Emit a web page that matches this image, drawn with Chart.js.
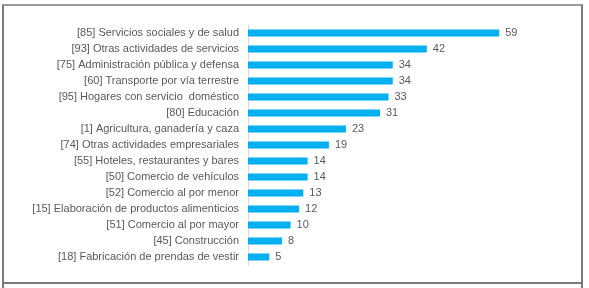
<!DOCTYPE html>
<html>
<head>
<meta charset="utf-8">
<script src="https://cdn.jsdelivr.net/npm/chart.js@4.4.1/dist/chart.umd.min.js"></script>
<style>
  html, body { margin: 0; padding: 0; background: #ffffff; overflow: hidden; }
  #wrap { position: relative; width: 589px; height: 288px; }
  #frame { position: absolute; left: 2px; top: 4px; width: 577px; height: 276px; border: 2px solid #7a7a7a; border-top-color: #9a9a9a; box-sizing: content-box; pointer-events: none; }
  .ext { position: absolute; top: 284px; width: 2px; height: 4px; background: #7a7a7a; }
  canvas { position: absolute; left: 0; top: 0; }
</style>
</head>
<body>
<div id="wrap">
  <canvas id="c" width="589" height="288"></canvas>
  <div id="frame"></div>
  <div class="ext" style="left:2px"></div>
  <div class="ext" style="left:581px"></div>
</div>
<script>
const categories = [
  "[85] Servicios sociales y de salud",
  "[93] Otras actividades de servicios",
  "[75] Administración pública y defensa",
  "[60] Transporte por vía terrestre",
  "[95] Hogares con servicio  doméstico",
  "[80] Educación",
  "[1] Agricultura, ganadería y caza",
  "[74] Otras actividades empresariales",
  "[55] Hoteles, restaurantes y bares",
  "[50] Comercio de vehículos",
  "[52] Comercio al por menor",
  "[15] Elaboración de productos alimenticios",
  "[51] Comercio al por mayor",
  "[45] Construcción",
  "[18] Fabricación de prendas de vestir"
];
const values = [59, 42, 34, 34, 33, 31, 23, 19, 14, 14, 13, 12, 10, 8, 5];

const FONT = "'Liberation Sans', Arial, sans-serif";

const valueLabels = {
  id: 'valueLabels',
  afterDatasetsDraw(chart) {
    const ctx = chart.ctx;
    const meta = chart.getDatasetMeta(0);
    ctx.save();
    ctx.font = "11px " + FONT;
    ctx.fillStyle = "#595959";
    ctx.textAlign = "left";
    ctx.textBaseline = "middle";
    meta.data.forEach((bar, i) => {
      ctx.fillText(String(chart.data.datasets[0].data[i]), bar.x + 6, bar.y);
    });
    ctx.restore();
  }
};

new Chart(document.getElementById('c'), {
  type: 'bar',
  data: {
    labels: categories,
    datasets: [{
      data: values,
      backgroundColor: '#00B0F0',
      borderWidth: 0,
      barPercentage: 0.44,
      categoryPercentage: 1.0
    }]
  },
  options: {
    indexAxis: 'y',
    responsive: false,
    animation: false,
    devicePixelRatio: 1,
    layout: { padding: { left: 2, right: 43, top: 25, bottom: 23 } },
    plugins: { legend: { display: false }, tooltip: { enabled: false } },
    scales: {
      x: {
        display: false,
        min: 0,
        max: 70
      },
      y: {
        afterFit(scale) { scale.width = 246; },
        grid: { display: false, drawTicks: false },
        border: { display: true, color: '#D9D9D9', width: 1 },
        ticks: {
          color: '#595959',
          padding: 9,
          autoSkip: false,
          font: { family: FONT, size: 11 }
        }
      }
    }
  },
  plugins: [valueLabels]
});
</script>
</body>
</html>
